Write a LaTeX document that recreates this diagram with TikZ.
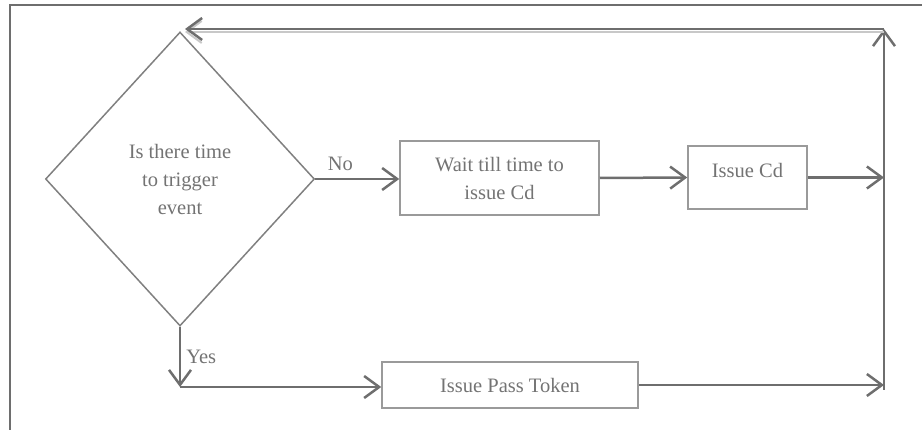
\documentclass[tikz,border=0pt]{standalone}
\usepackage{fontspec}
\setmainfont{Liberation Serif}
\usetikzlibrary{shapes.geometric,arrows.meta}
\definecolor{ln}{HTML}{6E6E6E}
\definecolor{shd}{HTML}{C8C8C8}
\definecolor{bx}{HTML}{9A9A9A}
\definecolor{dm}{HTML}{808080}
\definecolor{tx}{HTML}{737373}
\begin{document}
\begin{tikzpicture}[x=1pt,y=-1pt,
  txt/.style={text=tx,font=\fontsize{20.5}{28}\selectfont,align=center},
  dia/.style={diamond,draw=dm,line width=1.5pt,minimum width=269pt,minimum height=294pt,inner sep=0pt,txt},
  stepbox/.style={rectangle,draw=bx,line width=1.5pt,inner sep=0pt,txt},
  arr/.style={draw=ln,line width=2.5pt,-{Straight Barb[length=15pt,width=22pt]}},
  lbl/.style={txt,inner sep=0pt}]
\useasboundingbox (0,0) rectangle (922,430);
\draw[ln,line width=2pt] (10,430) -- (10,5) -- (922,5);
% nodes
\node[dia] (q) at (180,179) {Is there time\\to trigger\\event};
\node[stepbox,minimum width=199pt,minimum height=74pt] (wait) at (499.5,178) {Wait till time to\\issue Cd};
\node[stepbox,minimum width=119pt,minimum height=63pt,text depth=15pt] (cd) at (747.5,177.5) {Issue Cd};
\node[stepbox,minimum width=256pt,minimum height=46pt] (pass) at (510,385) {Issue Pass Token};
% helper coordinates
\coordinate (tr) at (884,29);
\coordinate (br) at (884,390);
\coordinate (yc) at (180,387);
\coordinate (tl) at (185,29);
% connectors
\draw[arr] (q.east) -- (q.east -| wait.west) node[lbl,pos=0.3,above=7pt] {No};
\draw[arr] (wait.east) -- (cd.west);
\draw[arr] (cd.east) -- (cd.east -| tr);
\draw[arr] (q.south) -- (yc) node[lbl,pos=0.5,right=5pt] {Yes};
\draw[arr] (yc) -- (yc -| pass.west);
\draw[arr] (pass.east) -- (pass.east -| br);
\draw[arr] (br) -- (tr);
\draw[arr,draw=shd,line width=2pt,transform canvas={yshift=-3pt}] (tr) -- (tl);
\draw[arr] (tr) -- (tl);
\end{tikzpicture}
\end{document}
